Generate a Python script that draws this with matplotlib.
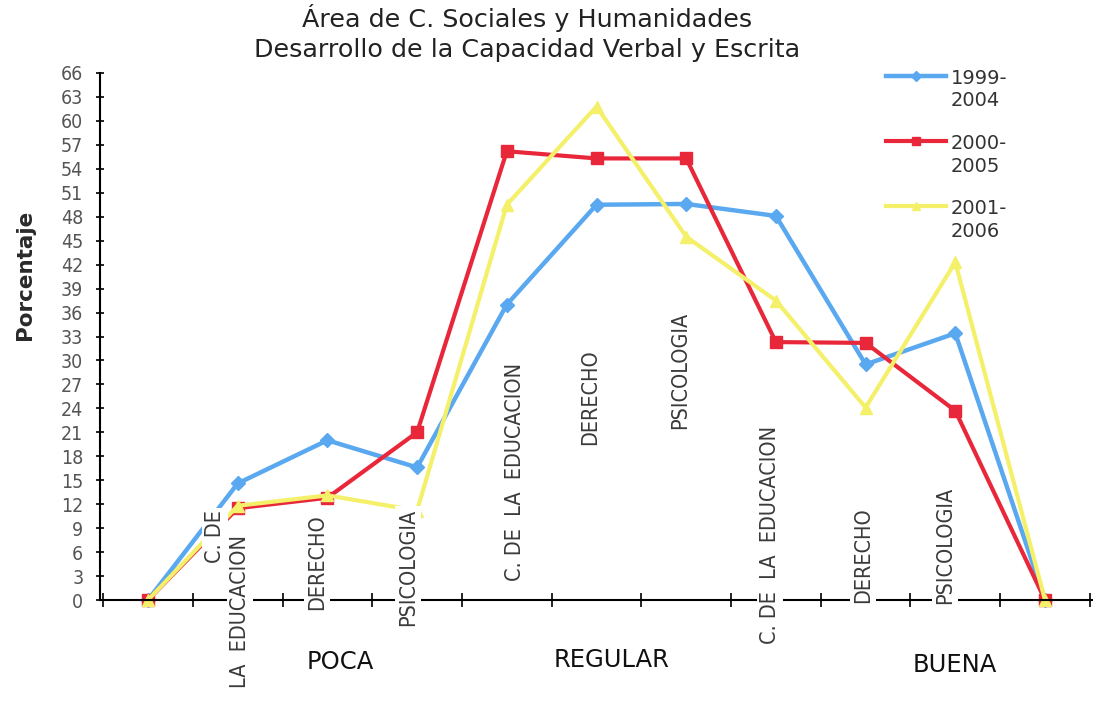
import matplotlib
matplotlib.use("Agg")
import matplotlib.pyplot as plt
import numpy as np

# ---- data ----
x_points = list(range(11))
series_names = ["1999-\n2004", "2000-\n2005", "2001-\n2006"]
s1999 = [0, 14.6, 20.0, 16.6, 37.0, 49.5, 49.6, 48.1, 29.5, 33.4, 0]
s2000 = [0, 11.5, 12.8, 21.0, 56.2, 55.3, 55.3, 32.3, 32.2, 23.7, 0]
s2001 = [0, 11.8, 13.1, 11.2, 49.5, 61.8, 45.5, 37.5, 24.1, 42.3, 0]
y_ticks = list(range(0, 67, 3))
group_labels = ["POCA", "REGULAR", "BUENA"]
cat_labels = ["C. DE", "LA  EDUCACION", "DERECHO", "PSICOLOGIA",
              "C. DE  LA  EDUCACION", "DERECHO", "PSICOLOGIA",
              "C. DE  LA  EDUCACION", "DERECHO", "PSICOLOGIA"]

W, H = 1093, 704
fig = plt.figure(figsize=(W / 100, H / 100), dpi=100)
ax_l, ax_r, ax_b, ax_t = 100, 1093, 600, 73
ax = fig.add_axes([ax_l / W, 1 - ax_b / H, (ax_r - ax_l) / W, (ax_b - ax_t) / H])

step = 89.7
x0 = 148
xlo = (ax_l - x0) / step
xhi = (ax_r - x0) / step
ax.set_xlim(xlo, xhi)
ax.set_ylim(0, 66)

def px2data(px, py):
    return (px - x0) / step, (ax_b - py) / ((ax_b - ax_t) / 66)

blue = "#5aa9f0"
red = "#e8283a"
yellow = "#f4f06a"

ax.plot(x_points, s1999, color=blue, lw=3.2, marker="D", ms=7, mec=blue, mfc=blue,
        label=series_names[0], zorder=2, clip_on=False)
ax.plot(x_points, s2000, color=red, lw=3.0, marker="s", ms=9, mec=red, mfc=red,
        label=series_names[1], zorder=2.1, clip_on=False)
ax.plot(x_points, s2001, color=yellow, lw=3.0, marker="^", ms=9, mec=yellow, mfc=yellow,
        label=series_names[2], zorder=2.2, clip_on=False)

ax.spines["top"].set_visible(False)
ax.spines["right"].set_visible(False)
ax.spines["left"].set_linewidth(1.5)
ax.spines["bottom"].set_linewidth(1.5)

ax.set_yticks(y_ticks)
ax.set_yticklabels([str(t) for t in y_ticks], fontsize=14, color="#555555",
                   fontfamily="DejaVu Sans", fontstretch="condensed")
ax.tick_params(axis="y", direction="inout", length=6, width=1.2, pad=9)
ax.set_xticks([i + 0.5 for i in range(-1, 11)])
ax.set_xticklabels([])
ax.tick_params(axis="x", direction="inout", length=10, width=1.2)

fig.text(25 / W, 1 - 275 / H, "Porcentaje", rotation=90, ha="center", va="center",
         fontsize=15.5, fontfamily="DejaVu Sans", fontweight="bold", color="#2a2a2a")

# category labels (rotated, white background)
label_pos = [(215, 537), (240, 612), (317, 562), (408, 567),
             (515, 472), (590, 397), (680, 370),
             (770, 535), (863, 555), (945, 545)]
for txt, (px, py) in zip(cat_labels, label_pos):
    xd, yd = px2data(px, py)
    ax.text(xd, yd, txt, rotation=90, ha="center", va="center", fontsize=15.5,
            fontfamily="DejaVu Sans", fontstretch="condensed", color="#3a3a3a",
            bbox=dict(boxstyle="square,pad=0.12", fc="white", ec="none"),
            clip_on=False, zorder=5)

group_pos = [(340, 662), (612, 660), (955, 665)]
for txt, (px, py) in zip(group_labels, group_pos):
    fig.text(px / W, 1 - py / H, txt, ha="center", va="center", fontsize=17.5,
             fontfamily="DejaVu Sans", color="#111111")

fig.text(527 / W, 1 - 18 / H, "Área de C. Sociales y Humanidades", ha="center",
         va="center", fontsize=18.3, fontfamily="DejaVu Sans", color="#222222")
fig.text(527 / W, 1 - 50 / H, "Desarrollo de la Capacidad Verbal y Escrita", ha="center",
         va="center", fontsize=18.3, fontfamily="DejaVu Sans", color="#222222")

leg = fig.legend(loc="upper left", bbox_to_anchor=(876 / W, 1 - 59 / H), frameon=False,
                 handlelength=3.1, handletextpad=0.25, labelspacing=1.2, markerscale=0.7,
                 borderpad=0, prop=dict(family="DejaVu Sans", size=14))
for t in leg.get_texts():
    t.set_color("#333333")
    t.set_linespacing(1.25)
try:
    for col in leg._legend_handle_box.get_children():
        for row in col.get_children():
            row.align = "top"
except Exception:
    pass

fig.savefig("out.png", dpi=100)
